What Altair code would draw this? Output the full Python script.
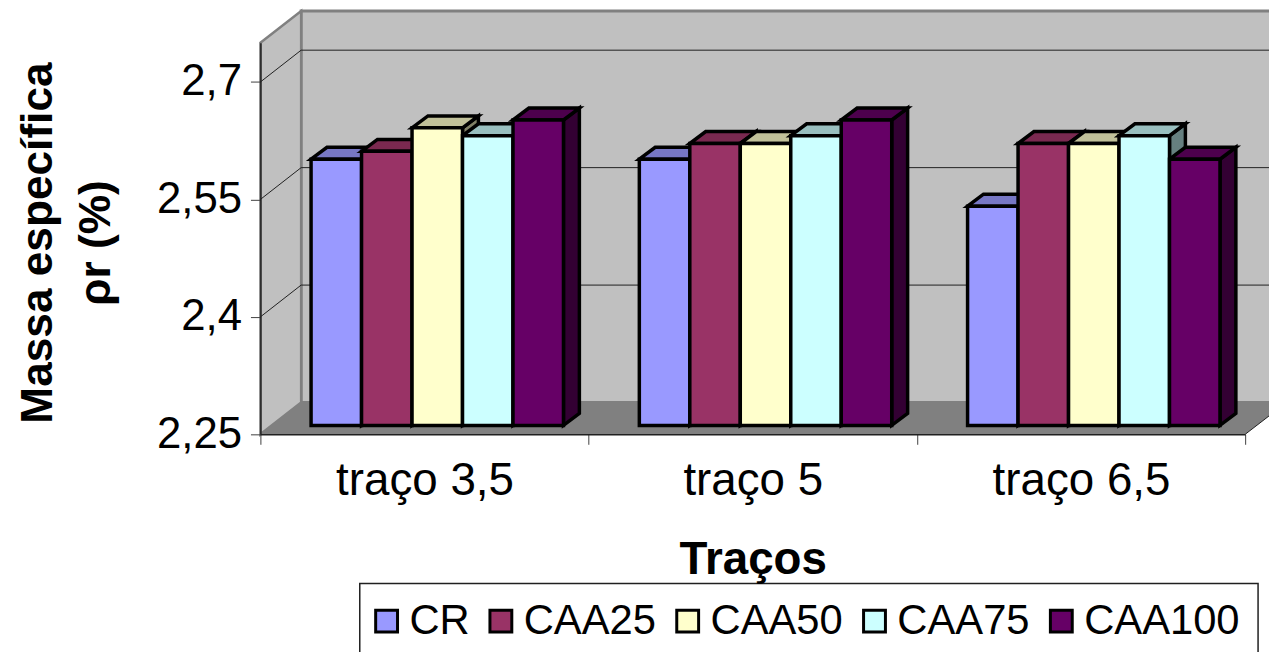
import altair as alt
import pandas as pd

categories = ["traço 3,5", "traço 5", "traço 6,5"]
series = ["CR", "CAA25", "CAA50", "CAA75", "CAA100"]
cr = [2.59, 2.59, 2.53]
caa25 = [2.60, 2.61, 2.61]
caa50 = [2.63, 2.61, 2.61]
caa75 = [2.62, 2.62, 2.62]
caa100 = [2.64, 2.64, 2.59]
values = [cr, caa25, caa50, caa75, caa100]
front_colors = ["#9999ff", "#993366", "#ffffcc", "#ccffff", "#660066"]
top_colors = ["#7777c4", "#7a2950", "#c1c19a", "#99bfbf", "#4d004d"]
side_colors = ["#4d4d80", "#4d1a33", "#808066", "#668080", "#330033"]
y_ticks = [2.25, 2.4, 2.55, 2.7]

FONT = "Liberation Sans"
PW, PH = 991, 394
XU, YU = PW / 3, PH / 0.5          # pixels per category / per value unit
WALL_X, WALL_Y = 41 / XU, 32 / YU  # depth of the box
BAR_X, BAR_Y = 16 / XU, 12 / YU    # depth of one bar
LIFT = 9 / YU                      # bars stand on the recessed floor
BASE = 2.25 + LIFT
GROUP0 = 51 / XU
BARW = 50.8 / XU
RIGHT = 1290 / XU - 262 / XU

xs = alt.Scale(domain=[0, 3], nice=False, zero=False)
ys = alt.Scale(domain=[2.25, 2.75], nice=False, zero=False)

fronts, tops, sides = [], [], []
for s, name in enumerate(series):
    for c in range(3):
        v = values[s][c] + LIFT
        x0 = c + GROUP0 + s * BARW
        x1 = x0 + BARW
        fronts.append(dict(x=x0, x2=x1, y=BASE, y2=v, serie=name))
        key = f"{s}-{c}"
        tops += [
            dict(x=x0, y=v, y2=v, id=key, fill=top_colors[s]),
            dict(x=x0 + BAR_X, y=v + BAR_Y, y2=v, id=key, fill=top_colors[s]),
            dict(x=x1, y=v + BAR_Y, y2=v, id=key, fill=top_colors[s]),
            dict(x=x1 + BAR_X, y=v + BAR_Y, y2=v + BAR_Y, id=key, fill=top_colors[s]),
        ]
        sides += [
            dict(x=x1, y=v, y2=BASE, id=key, fill=side_colors[s]),
            dict(x=x1 + BAR_X, y=v + BAR_Y, y2=BASE + BAR_Y, id=key, fill=side_colors[s]),
        ]

label_expr = " : ".join(
    f"datum.value == {i + 0.5} ? '{c}'" for i, c in enumerate(categories)
) + " : ''"

x_axis = alt.Axis(
    values=[0, 0.5, 1, 1.5, 2, 2.5, 3], labelExpr=label_expr, grid=False,
    title="Traços", titleFont=FONT, titleFontSize=46, titleFontWeight="bold", titleColor="black",
    titleY=104, labelFont=FONT, labelFontSize=46, labelColor="black", labelPadding=15,
    labelOverlap=False, labelFlush=False,
    tickSize=10, tickColor="#404040", tickWidth=1,
    tickOpacity={"condition": {"test": "datum.value % 1 == 0", "value": 1}, "value": 0},
    domainColor="#202020", domainWidth=1.5, zindex=1,
)
y_axis = alt.Axis(
    values=y_ticks, format=".2~f", labelExpr="replace(datum.label, '.', ',')", grid=False,
    title=["Massa específica", "ρr (%)"], titleFont=FONT, titleFontSize=44.5, titleFontWeight="bold",
    titleColor="black", titleAngle=-90, titleX=-210, titleY=201, titleBaseline="alphabetic",
    titleLineHeight=58,
    labelFont=FONT, labelFontSize=44, labelColor="black", labelPadding=9,
    tickSize=10, tickColor="#404040", tickWidth=1,
    domainColor="#202020", domainWidth=1.5, zindex=1,
)


def X():
    return alt.X("x:Q", scale=xs, axis=x_axis)


def Y():
    return alt.Y("y:Q", scale=ys, axis=y_axis)


back = alt.Chart(pd.DataFrame([dict(x=WALL_X, x2=RIGHT, y=2.25 + WALL_Y, y2=2.75 + WALL_Y)])).mark_rect(
    fill="#c0c0c0", stroke="#808080", strokeWidth=3
).encode(x=X(), x2="x2:Q", y=Y(), y2="y2:Q")

left_wall = alt.Chart(pd.DataFrame([
    dict(x=0, y=2.75, y2=2.25), dict(x=WALL_X, y=2.75 + WALL_Y, y2=2.25 + WALL_Y),
])).mark_area(fill="#c0c0c0", stroke="#808080", strokeWidth=2.5).encode(x=X(), y=Y(), y2="y2:Q")

floor_right = 3 + 24 / XU
floor = alt.Chart(pd.DataFrame([
    dict(x=0, y=2.25, y2=2.25),
    dict(x=WALL_X, y=2.25 + WALL_Y, y2=2.25),
    dict(x=3, y=2.25 + WALL_Y, y2=2.25),
    dict(x=floor_right, y=2.25 + WALL_Y, y2=2.25 + 18.5 / YU),
])).mark_area(fill="#808080").encode(x=X(), y=Y(), y2="y2:Q")

grid_rows = []
for t in y_ticks[1:]:
    grid_rows += [dict(x=0, y=t, id=f"l{t}"), dict(x=WALL_X, y=t + WALL_Y, id=f"l{t}"),
                  dict(x=WALL_X, y=t + WALL_Y, id=f"b{t}"), dict(x=RIGHT, y=t + WALL_Y, id=f"b{t}")]
grid_rows += [dict(x=3, y=2.25, id="edge"), dict(x=floor_right, y=2.25 + 18.5 / YU, id="edge")]
grid = alt.Chart(pd.DataFrame(grid_rows)).mark_line(color="#202020", strokeWidth=1).encode(
    x=X(), y=Y(), detail="id:N"
)

# frame of the legend: open at the bottom of the page, as in the reference
legend_frame = alt.Chart(pd.DataFrame([dict(
    x=100 / XU, x2=1004 / XU, y=2.25 - (544 - 394) / YU, y2=2.25 - (640 - 394) / YU
)])).mark_rect(fill="white", stroke="#202020", strokeWidth=1.5).encode(
    x=X(), x2="x2:Q", y=Y(), y2="y2:Q"
)

stroke = dict(stroke="black", strokeWidth=3.5, strokeJoin="miter")
side_layer = alt.Chart(pd.DataFrame(sides)).mark_area(**stroke).encode(
    x=X(), y=Y(), y2="y2:Q", detail="id:N", fill=alt.Fill("fill:N", scale=None)
)
top_layer = alt.Chart(pd.DataFrame(tops)).mark_area(**stroke).encode(
    x=X(), y=Y(), y2="y2:Q", detail="id:N", fill=alt.Fill("fill:N", scale=None)
)
front_layer = alt.Chart(pd.DataFrame(fronts)).mark_rect(**stroke).encode(
    x=X(), x2="x2:Q", y=Y(), y2="y2:Q",
    color=alt.Color(
        "serie:N", sort=series,
        scale=alt.Scale(domain=series, range=front_colors),
        legend=alt.Legend(
            orient="none", legendX=106, legendY=561, direction="horizontal", columns=5,
            title=None, padding=0, zindex=2,
            labelFont=FONT, labelFontSize=42, labelColor="black", labelOffset=2,
            symbolType="square", symbolSize=484, symbolStrokeColor="black", symbolStrokeWidth=3,
            columnPadding=10, labelLimit=300,
        ),
    ),
)

chart = alt.layer(back, left_wall, floor, grid, legend_frame, side_layer, top_layer, front_layer).properties(
    width=PW, height=PH,
    padding={"left": 254, "top": 33, "right": 24, "bottom": 217},
    autosize=alt.AutoSizeParams(type="none"),
    background="white",
).configure_view(stroke=None)

chart.save("out.html", embed_options={"renderer": "svg", "actions": False})
